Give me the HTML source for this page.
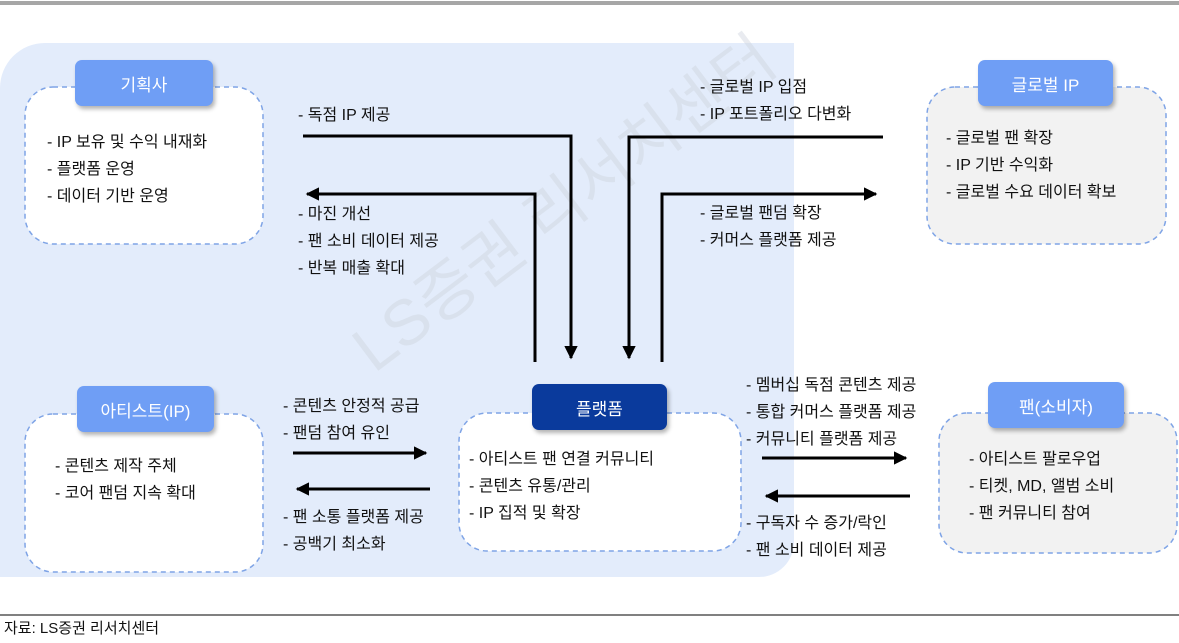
<!DOCTYPE html>
<html><head><meta charset="utf-8"><style>
body{margin:0;width:1179px;height:643px;background:#fff;position:relative;overflow:hidden;font-family:"Liberation Sans","Noto Sans CJK KR",sans-serif;color:#111}
.t{position:absolute;font-size:16px;line-height:27px;white-space:nowrap}
.h{position:absolute;color:#fff;font-size:17px;display:flex;align-items:center;justify-content:center;border-radius:7px;box-shadow:2px 3px 4px rgba(0,0,0,.3)}
</style></head><body>
<svg width="1179" height="643" style="position:absolute;left:0;top:0">
<defs><marker id="a" viewBox="0 0 10 10" refX="9" refY="5" markerWidth="4.5" markerHeight="4.5" orient="auto"><path d="M0,0L10,5L0,10z" fill="#000"/></marker></defs>
<rect x="0" y="1" width="1179" height="4" fill="#a6a6a6"/>
<path d="M45,43H794V542A35,35 0 0 1 759,577H0V88A45,45 0 0 1 45,43Z" fill="#e3ecfb"/>
<text x="565" y="225" text-anchor="middle" font-size="64" fill="#cfd5de" opacity=".45" transform="rotate(-37 565 205)" font-family="Liberation Sans, Noto Sans CJK KR, sans-serif">LS증권 리서치센터</text>
<g fill="#fff" stroke="#7fa4e6" stroke-width="1.5" stroke-dasharray="5,4">
<rect x="25" y="87" width="238" height="157" rx="28"/>
<rect x="927" y="87" width="239" height="157" rx="28" fill="#f2f2f2"/>
<rect x="25" y="414" width="238" height="158" rx="28"/>
<rect x="459" y="413" width="282" height="138" rx="28"/>
<rect x="939" y="413" width="238" height="140" rx="28" fill="#f2f2f2"/>
</g>
<g stroke="#000" stroke-width="3" fill="none">
<path d="M303,136H571V358" marker-end="url(#a)"/>
<path d="M535,362V194H307" marker-end="url(#a)"/>
<path d="M883,137H629V358" marker-end="url(#a)"/>
<path d="M662,362V194H876" marker-end="url(#a)"/>
<path d="M293,453H426" marker-end="url(#a)"/>
<path d="M430,489H297" marker-end="url(#a)"/>
<path d="M762,458H906" marker-end="url(#a)"/>
<path d="M910,496H766" marker-end="url(#a)"/>
</g>
<line x1="0" y1="615" x2="1179" y2="615" stroke="#000" stroke-width="1"/>
</svg>
<div class="h" style="left:75px;top:60px;width:138px;height:46px;background:#6f9ef5">기획사</div>
<div class="h" style="left:978px;top:60px;width:135px;height:46px;background:#6f9ef5">글로벌 IP</div>
<div class="h" style="left:77px;top:386px;width:137px;height:46px;background:#6f9ef5">아티스트(IP)</div>
<div class="h" style="left:532px;top:384px;width:135px;height:46px;background:#0a3a9c">플랫폼</div>
<div class="h" style="left:988px;top:382px;width:136px;height:46px;background:#6f9ef5">팬(소비자)</div>
<div class="t" style="left:47px;top:129px">- IP 보유 및 수익 내재화<br>- 플랫폼 운영<br>- 데이터 기반 운영</div>
<div class="t" style="left:298px;top:102px">- 독점 IP 제공</div>
<div class="t" style="left:298px;top:201px">- 마진 개선<br>- 팬 소비 데이터 제공<br>- 반복 매출 확대</div>
<div class="t" style="left:700px;top:74px">- 글로벌 IP 입점<br>- IP 포트폴리오 다변화</div>
<div class="t" style="left:700px;top:200px">- 글로벌 팬덤 확장<br>- 커머스 플랫폼 제공</div>
<div class="t" style="left:946px;top:125px">- 글로벌 팬 확장<br>- IP 기반 수익화<br>- 글로벌 수요 데이터 확보</div>
<div class="t" style="left:55px;top:453px">- 콘텐츠 제작 주체<br>- 코어 팬덤 지속 확대</div>
<div class="t" style="left:283px;top:393px">- 콘텐츠 안정적 공급<br>- 팬덤 참여 유인</div>
<div class="t" style="left:283px;top:504px">- 팬 소통 플랫폼 제공<br>- 공백기 최소화</div>
<div class="t" style="left:469px;top:446px">- 아티스트 팬 연결 커뮤니티<br>- 콘텐츠 유통/관리<br>- IP 집적 및 확장</div>
<div class="t" style="left:746px;top:372px">- 멤버십 독점 콘텐츠 제공<br>- 통합 커머스 플랫폼 제공<br>- 커뮤니티 플랫폼 제공</div>
<div class="t" style="left:746px;top:510px">- 구독자 수 증가/락인<br>- 팬 소비 데이터 제공</div>
<div class="t" style="left:969px;top:446px">- 아티스트 팔로우업<br>- 티켓, MD, 앨범 소비<br>- 팬 커뮤니티 참여</div>
<div class="t" style="left:4px;top:615px;font-size:15px">자료: LS증권 리서치센터</div>
</body></html>
